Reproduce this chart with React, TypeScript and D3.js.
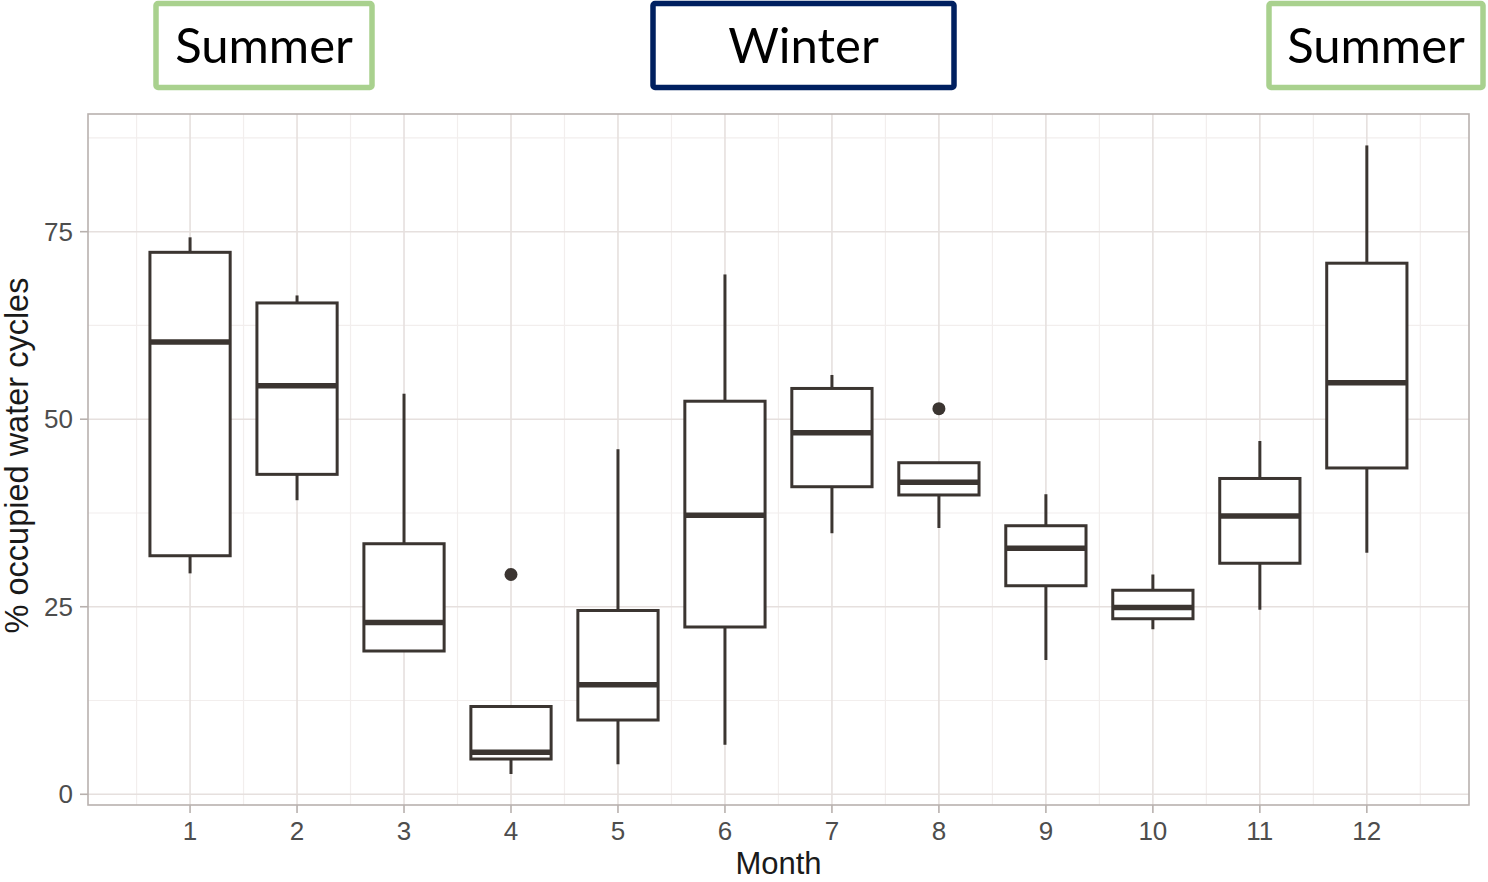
import React from "react";
import * as d3 from "d3";

const months = [1, 2, 3, 4, 5, 6, 7, 8, 9, 10, 11, 12];
const whiskerHigh = [74.25, 66.5, 53.4, 11.7, 46.0, 69.3, 55.9, 44.2, 40.0, 29.3, 47.1, 86.5];
const q3 = [72.25, 65.5, 33.4, 11.7, 24.5, 52.4, 54.1, 44.2, 35.8, 27.2, 42.1, 70.8];
const medians = [60.3, 54.45, 22.9, 5.6, 14.6, 37.2, 48.2, 41.6, 32.8, 24.9, 37.1, 54.85];
const q1 = [31.8, 42.65, 19.1, 4.7, 9.9, 22.3, 41.0, 39.9, 27.8, 23.4, 30.8, 43.5];
const whiskerLow = [29.45, 39.2, 19.1, 2.7, 4.0, 6.6, 34.8, 35.5, 17.9, 22.0, 24.6, 32.2];
const outlierMonths = [4, 8];
const outlierValues = [29.3, 51.4];
const yTicks = [0, 25, 50, 75];
const yMinor = [12.5, 37.5, 62.5, 87.5];
const xMinor = [0.5, 1.5, 2.5, 3.5, 4.5, 5.5, 6.5, 7.5, 8.5, 9.5, 10.5, 11.5, 12.5];
const seasons = [
  { label: "Summer", x0: 156, x1: 372, color: "#a9d18e" },
  { label: "Winter", x0: 653, x1: 954, color: "#002060" },
  { label: "Summer", x0: 1269, x1: 1483, color: "#a9d18e" },
];

const W = 1488;
const H = 882;
const panel = { left: 88, right: 1469, top: 114, bottom: 805 };

export default function App() {
  const x = d3.scaleLinear().domain([0.046, 12.955]).range([panel.left, panel.right]);
  const y = d3.scaleLinear().domain([-1.43, 90.69]).range([panel.bottom, panel.top]);
  const boxW = x(0.75) - x(0);
  const boxCol = "#3b3531";
  const gridMajor = "#e6e0de";
  const gridMinor = "#f2eeed";
  const axisCol = "#b8b1ae";
  const font = "'Liberation Sans', Arial, sans-serif";

  return (
    <svg width={W} height={H} style={{ position: "absolute", left: 0, top: 0, background: "#fff" }}>
      {/* season labels */}
      {seasons.map((s, i) => (
        <g key={"s" + i}>
          <rect x={s.x0} y={3.5} width={s.x1 - s.x0} height={84} fill="#fff" stroke={s.color} strokeWidth={5.5} rx={2} />
          <text x={(s.x0 + s.x1) / 2} y={63} textAnchor="middle" fontFamily="Lato, 'Open Sans', sans-serif" fontSize={49} fill="#000">
            {s.label}
          </text>
        </g>
      ))}
      {/* grid */}
      {yMinor.map((v) => (
        <line key={"ym" + v} x1={panel.left} x2={panel.right} y1={y(v)} y2={y(v)} stroke={gridMinor} strokeWidth={1.2} />
      ))}
      {xMinor.map((v) => (
        <line key={"xm" + v} x1={x(v)} x2={x(v)} y1={panel.top} y2={panel.bottom} stroke={gridMinor} strokeWidth={1.2} />
      ))}
      {yTicks.map((v) => (
        <line key={"yM" + v} x1={panel.left} x2={panel.right} y1={y(v)} y2={y(v)} stroke={gridMajor} strokeWidth={1.6} />
      ))}
      {months.map((m) => (
        <line key={"xM" + m} x1={x(m)} x2={x(m)} y1={panel.top} y2={panel.bottom} stroke={gridMajor} strokeWidth={1.6} />
      ))}
      {/* panel border */}
      <rect x={panel.left} y={panel.top} width={panel.right - panel.left} height={panel.bottom - panel.top} fill="none" stroke={axisCol} strokeWidth={1.6} />
      {/* boxes */}
      {months.map((m, i) => {
        const cx = x(m);
        return (
          <g key={"b" + m}>
            <line x1={cx} x2={cx} y1={y(whiskerHigh[i])} y2={y(q3[i])} stroke={boxCol} strokeWidth={3} />
            <line x1={cx} x2={cx} y1={y(q1[i])} y2={y(whiskerLow[i])} stroke={boxCol} strokeWidth={3} />
            <rect x={cx - boxW / 2} y={y(q3[i])} width={boxW} height={y(q1[i]) - y(q3[i])} fill="#fff" stroke={boxCol} strokeWidth={3} />
            <line x1={cx - boxW / 2} x2={cx + boxW / 2} y1={y(medians[i])} y2={y(medians[i])} stroke={boxCol} strokeWidth={5.5} />
          </g>
        );
      })}
      {outlierMonths.map((m, i) => (
        <circle key={"o" + i} cx={x(m)} cy={y(outlierValues[i])} r={6.5} fill={boxCol} />
      ))}
      {/* y axis */}
      {yTicks.map((v) => (
        <g key={"yt" + v}>
          <line x1={panel.left - 8} x2={panel.left} y1={y(v)} y2={y(v)} stroke={axisCol} strokeWidth={1.6} />
          <text x={panel.left - 15} y={y(v)} dy="0.35em" textAnchor="end" fontFamily={font} fontSize={26} fill="#4d4d4d">
            {v}
          </text>
        </g>
      ))}
      {/* x axis */}
      {months.map((m) => (
        <g key={"xt" + m}>
          <line x1={x(m)} x2={x(m)} y1={panel.bottom} y2={panel.bottom + 8} stroke={axisCol} strokeWidth={1.6} />
          <text x={x(m)} y={840} textAnchor="middle" fontFamily={font} fontSize={26} fill="#4d4d4d">
            {m}
          </text>
        </g>
      ))}
      <text x={(panel.left + panel.right) / 2} y={874} textAnchor="middle" fontFamily={font} fontSize={31} fill="#1a1a1a">
        Month
      </text>
      <text
        transform={`translate(28, ${(panel.top + panel.bottom) / 2 - 4}) rotate(-90)`}
        textAnchor="middle"
        fontFamily={font}
        fontSize={32.5}
        fill="#1a1a1a"
      >
        % occupied water cycles
      </text>
    </svg>
  );
}
